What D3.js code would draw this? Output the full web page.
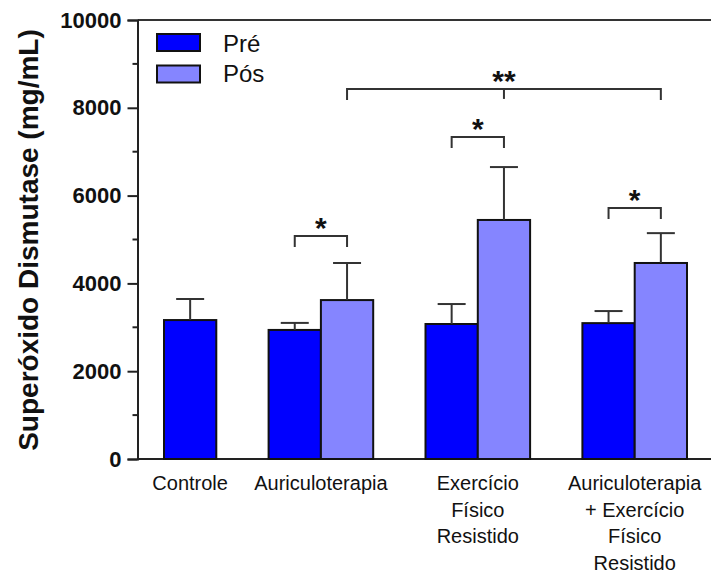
<!DOCTYPE html>
<html>
<head>
<meta charset="utf-8">
<script src="https://cdn.jsdelivr.net/npm/d3@7"></script>
<style>
  body { margin: 0; background: #fff; }
  svg { display: block; font-family: "Liberation Sans", Arial, sans-serif; }
</style>
</head>
<body>
<svg id="chart" width="711" height="572"></svg>
<script>
// groups and their (multi-line) tick labels
const categories = ["Controle", "Auriculoterapia", "Exercício Físico Resistido", "Auriculoterapia + Exercício Físico Resistido"];
const categoryLines = [
  ["Controle"],
  ["Auriculoterapia"],
  ["Exercício", "Físico", "Resistido"],
  ["Auriculoterapia", "+ Exercício", "Físico", "Resistido"]
];
const series = ["Pré", "Pós"];
const seriesColors = ["#0000ff", "#8585ff"];

// mean and error (upper only)
const preMean = [3165, 2940, 3075, 3095];
const preErr = [480, 160, 455, 275];
const posMean = [null, 3620, 5445, 4465];
const posErr = [null, 845, 1205, 680];

const yTicks = [0, 2000, 4000, 6000, 8000, 10000];
const yMinorTicks = [1000, 3000, 5000, 7000, 9000];

// significance brackets: bar keys they join and height in data units
const brackets = [
  { bars: ["Auriculoterapia|Pré", "Auriculoterapia|Pós"], y: 5080, label: "*" },
  { bars: ["Exercício Físico Resistido|Pré", "Exercício Físico Resistido|Pós"], y: 7335, label: "*" },
  { bars: ["Auriculoterapia + Exercício Físico Resistido|Pré", "Auriculoterapia + Exercício Físico Resistido|Pós"], y: 5720, label: "*" },
  { bars: ["Auriculoterapia|Pós", "Exercício Físico Resistido|Pós", "Auriculoterapia + Exercício Físico Resistido|Pós"], y: 8430, label: "**" }
];

const svg = d3.select("#chart");
const axisX = 137.5, baseY = 459, topY = 20;

// build bar list with an empty slot between groups
const bars = [];
const slots = [];
categories.forEach((c, i) => {
  bars.push({ key: `${c}|Pré`, cat: i, s: 0, v: preMean[i], e: preErr[i] });
  slots.push(`${c}|Pré`);
  if (posMean[i] != null) {
    bars.push({ key: `${c}|Pós`, cat: i, s: 1, v: posMean[i], e: posErr[i] });
    slots.push(`${c}|Pós`);
  }
  if (i < categories.length - 1) slots.push(`gap${i}`);
});

const x = d3.scaleBand().domain(slots).range([164, 687]).padding(0);
const y = d3.scaleLinear().domain([0, 10000]).range([baseY, topY]);
const bw = x.bandwidth();
const cx = k => x(k) + bw / 2;

// frame lines (top and bottom run to the right edge)
svg.append("line")
  .attr("x1", axisX).attr("x2", 711).attr("y1", baseY).attr("y2", baseY)
  .attr("stroke", "#222").attr("stroke-width", 2);
svg.append("line")
  .attr("x1", axisX).attr("x2", 711).attr("y1", topY).attr("y2", topY)
  .attr("stroke", "#333").attr("stroke-width", 2);

// y axis
const yAxis = d3.axisLeft(y).tickValues(yTicks).tickSize(10).tickPadding(6).tickFormat(d3.format("d"));
const gy = svg.append("g").attr("transform", `translate(${axisX},0)`).call(yAxis);
gy.select(".domain").attr("stroke", "#222").attr("stroke-width", 2);
gy.selectAll(".tick line").attr("stroke", "#222").attr("stroke-width", 2);
gy.selectAll(".tick text")
  .attr("font-size", 22).attr("font-weight", "bold").attr("fill", "#111")
  .attr("font-family", "'Liberation Sans', Arial, sans-serif");
gy.selectAll(".minor").data(yMinorTicks).enter().append("line")
  .attr("x1", -5).attr("x2", 0)
  .attr("y1", d => y(d)).attr("y2", d => y(d))
  .attr("stroke", "#222").attr("stroke-width", 2);

// y title
svg.append("text")
  .attr("transform", `translate(38,240) rotate(-90)`)
  .attr("text-anchor", "middle")
  .attr("font-size", 28).attr("font-weight", "bold").attr("fill", "#111")
  .text("Superóxido Dismutase (mg/mL)");

// bars
svg.selectAll(".bar").data(bars).enter().append("rect")
  .attr("class", "bar")
  .attr("x", d => x(d.key))
  .attr("y", d => y(d.v))
  .attr("width", bw)
  .attr("height", d => baseY - y(d.v))
  .attr("fill", d => seriesColors[d.s])
  .attr("stroke", "#111").attr("stroke-width", 2);

// error bars (upper)
const eb = svg.selectAll(".err").data(bars).enter().append("g").attr("class", "err")
  .attr("stroke", "#333").attr("stroke-width", 2);
eb.append("line")
  .attr("x1", d => cx(d.key)).attr("x2", d => cx(d.key))
  .attr("y1", d => y(d.v)).attr("y2", d => y(d.v + d.e));
eb.append("line")
  .attr("x1", d => cx(d.key) - 14).attr("x2", d => cx(d.key) + 14)
  .attr("y1", d => y(d.v + d.e)).attr("y2", d => y(d.v + d.e));

// x labels, centred under each group
categories.forEach((c, i) => {
  const keys = bars.filter(b => b.cat === i).map(b => b.key);
  const mid = (x(keys[0]) + x(keys[keys.length - 1]) + bw) / 2;
  const t = svg.append("text")
    .attr("text-anchor", "middle")
    .attr("font-size", 20).attr("fill", "#111");
  categoryLines[i].forEach((line, j) => {
    t.append("tspan").attr("x", mid).attr("y", 490 + j * 26.5).text(line);
  });
});

// significance brackets
brackets.forEach(b => {
  const xs = b.bars.map(cx);
  const x0 = xs[0], x1 = xs[xs.length - 1];
  const yy = y(b.y);
  const g = svg.append("g").attr("stroke", "#333").attr("stroke-width", 2).attr("fill", "none");
  g.append("path").attr("d", `M${x0},${yy + 11}V${yy}H${x1}V${yy + 11}`);
  if (xs.length > 2) {
    const m = (x0 + x1) / 2;
    g.append("line").attr("x1", m).attr("x2", m).attr("y1", yy).attr("y2", yy + 10);
  }
  svg.append("text")
    .attr("x", (x0 + x1) / 2).attr("y", yy + 2)
    .attr("text-anchor", "middle")
    .attr("font-size", 30).attr("font-weight", "bold").attr("fill", "#111")
    .text(b.label);
});

// legend
const lg = svg.append("g");
series.forEach((s, i) => {
  lg.append("rect")
    .attr("x", 157).attr("y", 34 + i * 31.5)
    .attr("width", 43).attr("height", 17)
    .attr("fill", seriesColors[i]).attr("stroke", "#111").attr("stroke-width", 2);
  lg.append("text")
    .attr("x", 223).attr("y", 52 + i * 30)
    .attr("font-size", 24).attr("fill", "#111")
    .text(s);
});
</script>
</body>
</html>
